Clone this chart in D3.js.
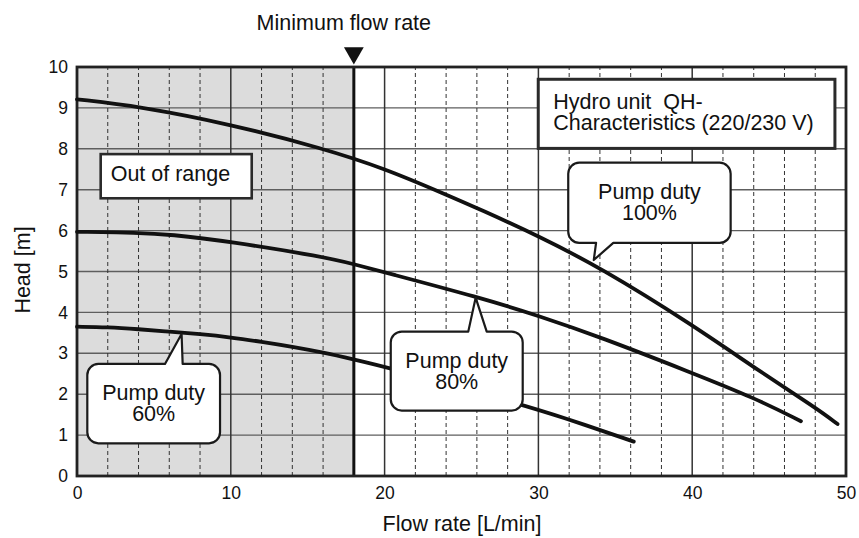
<!DOCTYPE html>
<html>
<head>
<meta charset="utf-8">
<script src="https://cdn.jsdelivr.net/npm/d3@7"></script>
<style>
  body { margin: 0; background: #fff; }
  svg { display: block; font-family: "Liberation Sans", Arial, Helvetica, sans-serif; }
  text { fill: #111; }
</style>
</head>
<body>
<div id="chartArea"></div>
<script>
const w = 859;
const h = 538;

// QH curves, flow [L/min] / head [m]
var flow100 = [0, 4, 10, 16, 20, 24, 26.2, 30, 34, 40, 44.1, 48.1, 49.45];
var head100 = [9.21, 9.04, 8.60, 8.01, 7.52, 6.88, 6.52, 5.87, 5.10, 3.70, 2.63, 1.65, 1.27];

var flow80 = [0, 4, 6, 10, 16, 18, 20, 26.2, 30, 34, 40, 44.1, 47.07];
var head80 = [5.97, 5.95, 5.91, 5.73, 5.36, 5.18, 4.98, 4.36, 3.92, 3.40, 2.52, 1.90, 1.34];

var flow60 = [0, 2, 4, 6, 8, 10, 12, 14, 16, 18, 20.2, 28.8, 31.4, 36.2];
var head60 = [3.65, 3.64, 3.59, 3.53, 3.47, 3.39, 3.28, 3.16, 3.02, 2.85, 2.66, 1.76, 1.46, 0.84];

var xTicks = [0, 10, 20, 30, 40, 50];
var xMinor = [2, 4, 6, 8, 12, 14, 16, 18, 22, 24, 26, 28, 32, 34, 36, 38, 42, 44, 46, 48];
var yTicks = [0, 1, 2, 3, 4, 5, 6, 7, 8, 9, 10];

var minFlow = 18;

var series = [
    { name: "100%", flow: flow100, head: head100 },
    { name: "80%", flow: flow80, head: head80 },
    { name: "60%", flow: flow60, head: head60 }
];

// callout boxes, in data units (x0,x1 flow / top,bottom head), pointer base + tip
var bubbles = [
    { lines: ["Pump duty", "100%"], x0: 31.94, x1: 42.5, top: 7.66, bottom: 5.70, side: "bottom", bx0: 33.75, bx1: 34.87, tx: 33.6, ty: 5.28 },
    { lines: ["Pump duty", "80%"], x0: 20.4, x1: 28.98, top: 3.53, bottom: 1.60, side: "top", bx0: 25.44, bx1: 26.64, tx: 25.92, ty: 4.36 },
    { lines: ["Pump duty", "60%"], x0: 0.67, x1: 9.3, top: 2.74, bottom: 0.80, side: "top", bx0: 5.72, bx1: 6.87, tx: 6.8, ty: 3.47 }
];

var fontSize = "21.5px";

var svg = d3.select("#chartArea")
    .append("svg")
    .attr("width", w)
    .attr("height", h);

var x = d3.scaleLinear().domain([0, 50]).range([77, 846]);
var y = d3.scaleLinear().domain([0, 10]).range([476, 67]);

// out of range shading
svg.append("rect")
    .attr("x", x(0))
    .attr("y", y(10))
    .attr("width", x(minFlow) - x(0))
    .attr("height", y(0) - y(10))
    .attr("fill", "#dcdcdc");

// grid
var grid = svg.append("g");

grid.selectAll(".hline")
    .data(yTicks.slice(1, -1))
    .enter().append("line")
    .attr("x1", x(0)).attr("x2", x(50))
    .attr("y1", d => y(d)).attr("y2", d => y(d))
    .attr("stroke", "#5e5e5e")
    .attr("stroke-width", 1.4);

grid.selectAll(".vminor")
    .data(xMinor.filter(d => d !== minFlow))
    .enter().append("line")
    .attr("x1", d => x(d)).attr("x2", d => x(d))
    .attr("y1", y(0)).attr("y2", y(10))
    .attr("stroke", "#333")
    .attr("stroke-width", 1)
    .attr("stroke-dasharray", "4,3");

grid.selectAll(".vmajor")
    .data(xTicks.slice(1, -1))
    .enter().append("line")
    .attr("x1", d => x(d)).attr("x2", d => x(d))
    .attr("y1", y(0)).attr("y2", y(10))
    .attr("stroke", "#333")
    .attr("stroke-width", 1.5);

// minimum flow marker
svg.append("line")
    .attr("x1", x(minFlow)).attr("x2", x(minFlow))
    .attr("y1", y(0)).attr("y2", y(10))
    .attr("stroke", "#111")
    .attr("stroke-width", 3);

svg.append("path")
    .attr("d", d3.symbol().type(d3.symbolTriangle).size(170)())
    .attr("transform", "translate(" + x(minFlow) + ",53) rotate(180)")
    .attr("fill", "#111");

svg.append("text")
    .attr("x", x(minFlow) - 10)
    .attr("y", 30)
    .attr("text-anchor", "middle")
    .style("font-size", fontSize)
    .text("Minimum flow rate");

// frame
svg.append("rect")
    .attr("x", x(0)).attr("y", y(10))
    .attr("width", x(50) - x(0))
    .attr("height", y(0) - y(10))
    .attr("fill", "none")
    .attr("stroke", "#222")
    .attr("stroke-width", 2.8);

// tick labels only, the frame is the axis line
var xAxis = svg.append("g")
    .attr("transform", "translate(0," + y(0) + ")")
    .call(d3.axisBottom(x).tickValues(xTicks).tickSize(0).tickPadding(11));
var yAxis = svg.append("g")
    .attr("transform", "translate(" + x(0) + ",0)")
    .call(d3.axisLeft(y).tickValues(yTicks).tickSize(0).tickPadding(9));

[xAxis, yAxis].forEach(function(a) {
    a.select(".domain").remove();
    a.selectAll("text")
        .attr("fill", "#222")
        .style("font-size", "17.5px")
        .style("font-family", "'Liberation Sans', Arial, sans-serif");
});

svg.append("text")
    .attr("x", 462)
    .attr("y", 531)
    .attr("text-anchor", "middle")
    .style("font-size", fontSize)
    .text("Flow rate [L/min]");

svg.append("text")
    .attr("transform", "translate(30,270) rotate(-90)")
    .attr("text-anchor", "middle")
    .style("font-size", fontSize)
    .text("Head [m]");

// the curves
var line = d3.line()
    .x(d => x(d[0]))
    .y(d => y(d[1]))
    .curve(d3.curveBasis);

svg.append("g").selectAll("path")
    .data(series)
    .enter().append("path")
    .attr("d", d => line(d.flow.map((f, i) => [f, d.head[i]])))
    .attr("fill", "none")
    .attr("stroke", "#111")
    .attr("stroke-width", 3.8)
    .attr("stroke-linecap", "round");

// plain boxes
function plainBox(x0, x1, top, bottom, sw) {
    return svg.append("rect")
        .attr("x", x(x0)).attr("y", y(top))
        .attr("width", x(x1) - x(x0))
        .attr("height", y(bottom) - y(top))
        .attr("fill", "#fff")
        .attr("stroke", "#2a2a2a")
        .attr("stroke-width", sw);
}

plainBox(1.54, 11.36, 7.87, 6.79, 2.6);
svg.append("text")
    .attr("x", x(1.54) + 10)
    .attr("y", y(7.87) + 27)
    .style("font-size", fontSize)
    .text("Out of range");

plainBox(29.99, 49.28, 9.70, 8.01, 3);
var hydro = svg.append("text")
    .attr("x", x(29.99) + 15)
    .attr("y", y(9.70) + 30)
    .style("font-size", fontSize)
    .style("white-space", "pre");
hydro.append("tspan").text("Hydro unit  QH-");
hydro.append("tspan").attr("x", x(29.99) + 15).attr("dy", 21).text("Characteristics (220/230 V)");

// speech bubbles
function bubblePath(b) {
    var x0 = x(b.x0), x1 = x(b.x1), y0 = y(b.top), y1 = y(b.bottom);
    var r = 11;
    var p = d3.path();
    p.moveTo(x0 + r, y0);
    if (b.side === "top") {
        p.lineTo(x(b.bx0), y0);
        p.lineTo(x(b.tx), y(b.ty));
        p.lineTo(x(b.bx1), y0);
    }
    p.lineTo(x1 - r, y0);
    p.arcTo(x1, y0, x1, y0 + r, r);
    p.lineTo(x1, y1 - r);
    p.arcTo(x1, y1, x1 - r, y1, r);
    if (b.side === "bottom") {
        p.lineTo(x(b.bx1), y1);
        p.lineTo(x(b.tx), y(b.ty));
        p.lineTo(x(b.bx0), y1);
    }
    p.lineTo(x0 + r, y1);
    p.arcTo(x0, y1, x0, y1 - r, r);
    p.lineTo(x0, y0 + r);
    p.arcTo(x0, y0, x0 + r, y0, r);
    p.closePath();
    return p.toString();
}

var bub = svg.append("g").selectAll("g")
    .data(bubbles)
    .enter().append("g");

bub.append("path")
    .attr("d", bubblePath)
    .attr("fill", "#fff")
    .attr("stroke", "#1a1a1a")
    .attr("stroke-width", 2.2)
    .attr("stroke-linejoin", "round");

bub.each(function(b) {
    var g = d3.select(this);
    var cx = (x(b.x0) + x(b.x1)) / 2;
    b.lines.forEach(function(t, i) {
        g.append("text")
            .attr("x", cx)
            .attr("y", y(b.top) + 36 + i * 21.5)
            .attr("text-anchor", "middle")
            .style("font-size", fontSize)
            .text(t);
    });
});
</script>
</body>
</html>
